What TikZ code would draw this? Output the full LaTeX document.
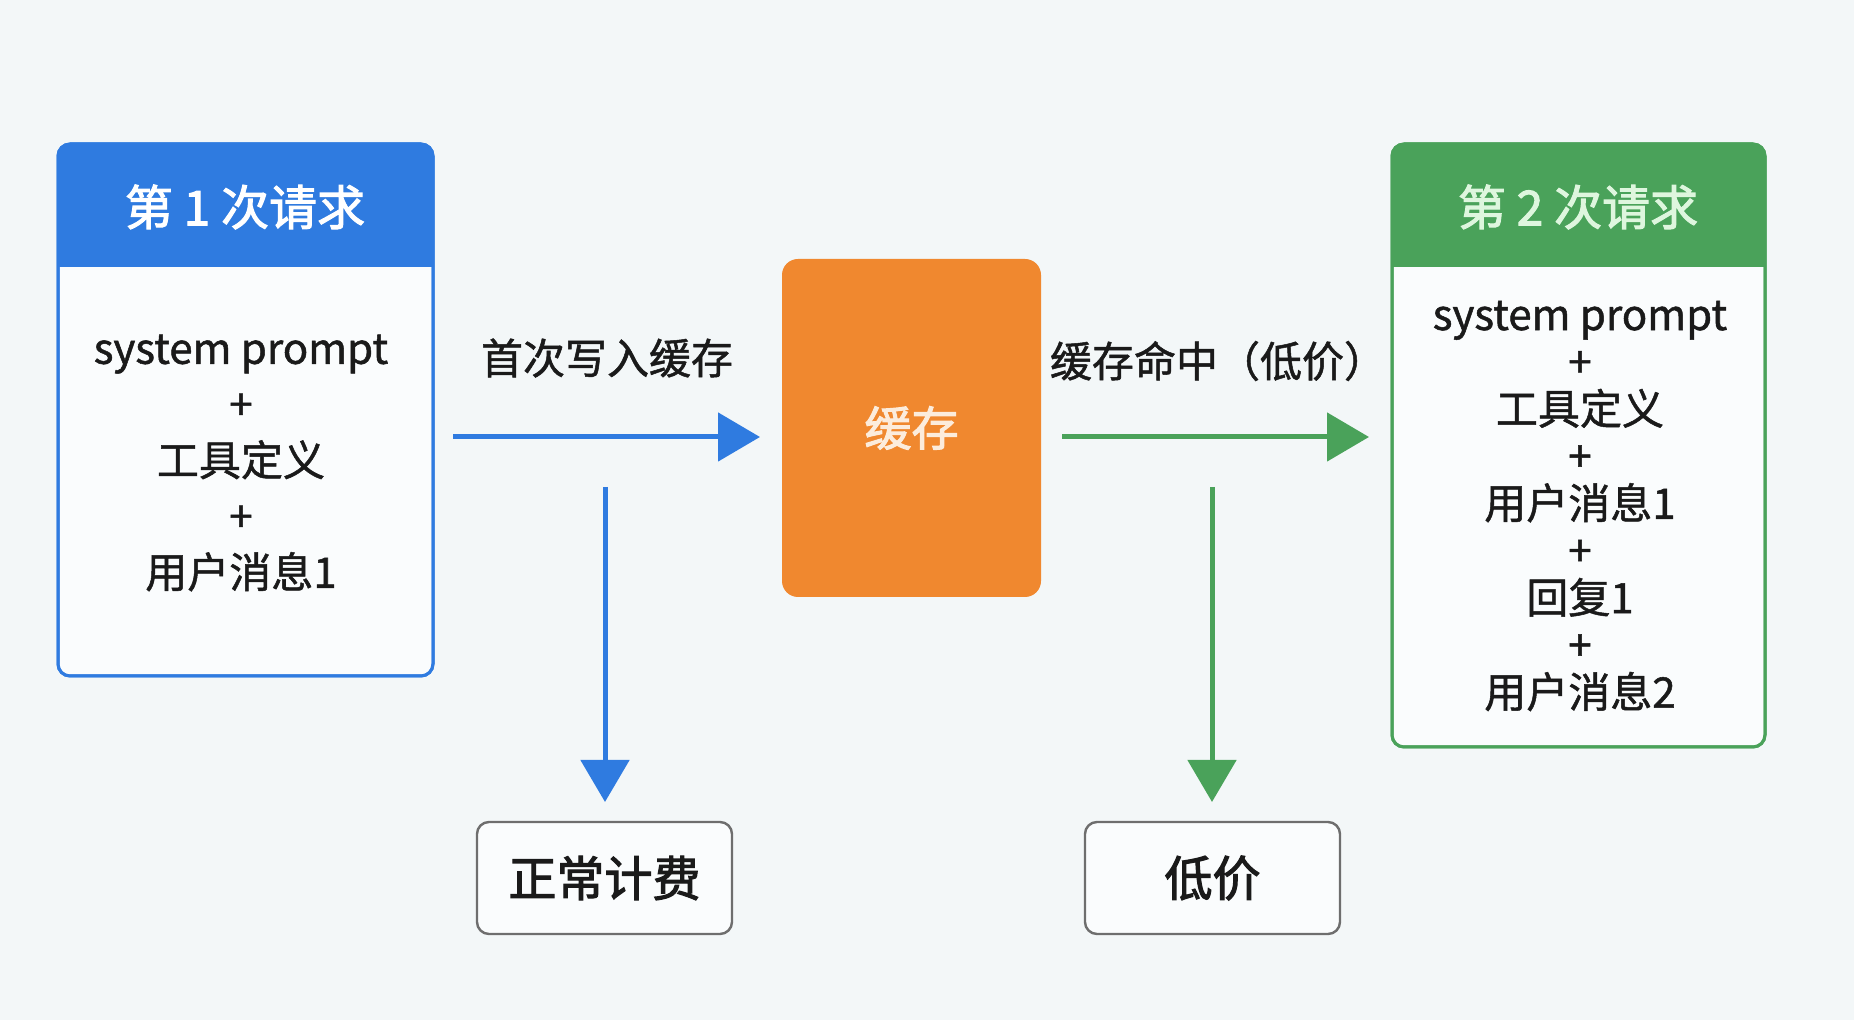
\documentclass[tikz,border=0pt]{standalone}
\usepackage{fontspec}
\setmainfont{Noto Sans CJK SC}
\newfontfamily\medf[FakeBold=1.2]{Noto Sans CJK SC}
\newfontfamily\boldf[FakeBold=2.2]{Noto Sans CJK SC}
\usetikzlibrary{arrows.meta}
\definecolor{bg}{HTML}{F3F7F8}
\definecolor{bblue}{HTML}{2F7BE0}
\definecolor{ggreen}{HTML}{4AA25A}
\definecolor{oorange}{HTML}{F0882F}
\definecolor{boxfill}{HTML}{FAFCFD}
\definecolor{graybd}{HTML}{6E6E6E}
\definecolor{txt}{HTML}{1A1A1A}
\tikzset{
  reqbox/.style={fill=boxfill, line width=1.5pt, rounded corners=6pt, outer sep=0pt, inner sep=0pt},
  headtxt/.style={font=\boldf\fontsize{24}{28}\selectfont, inner sep=0pt},
  bodytxt/.style={align=center, text=txt, inner sep=0pt},
  lbl/.style={font=\medf\fontsize{21}{25}\selectfont, text=txt, inner sep=0pt},
  resbox/.style={draw=graybd, fill=boxfill, line width=1.2pt, rounded corners=6pt,
     minimum width=127.5pt, minimum height=56pt, font=\boldf\fontsize{24}{28}\selectfont, text=txt, outer sep=0pt},
  barrow/.style={draw=bblue, line width=2.5pt, -{Triangle[length=21pt,width=24pt]}},
  garrow/.style={draw=ggreen, line width=2.5pt, -{Triangle[length=21pt,width=24pt]}}
}
\begin{document}
\begin{tikzpicture}[x=0.5pt,y=-0.5pt]
\fill[bg] (0,0) rectangle (1854,1020);
\useasboundingbox (0,0) rectangle (1854,1020);

% first request box
\node[reqbox, draw=bblue, minimum width=187.5pt, minimum height=266pt] (req1) at (245.5,410) {};
\begin{scope}
  \clip[rounded corners=6pt] (req1.north west) rectangle (req1.south east);
  \fill[bblue] (req1.north west) rectangle (req1.east |- 0,267);
\end{scope}
\draw[bblue, line width=1.5pt, rounded corners=6pt] (req1.north west) rectangle (req1.south east);
\node[headtxt, text=white] (h1) at (245,207) {第 1 次请求};
\node[bodytxt, font=\medf\fontsize{21}{28}\selectfont] (b1) at (241,463)
  {system prompt\\+\\工具定义\\+\\用户消息1};

% second request box
\node[reqbox, draw=ggreen, minimum width=186.5pt, minimum height=301.5pt] (req2) at (1578.5,445.5) {};
\begin{scope}
  \clip[rounded corners=6pt] (req2.north west) rectangle (req2.south east);
  \fill[ggreen] (req2.north west) rectangle (req2.east |- 0,267);
\end{scope}
\draw[ggreen, line width=1.5pt, rounded corners=6pt] (req2.north west) rectangle (req2.south east);
\node[headtxt, text={rgb,255:red,222;green,246;blue,222}] (h2) at (1578,207) {第 2 次请求};
\node[bodytxt, font=\medf\fontsize{21}{23.6}\selectfont] (b2) at (1580,506)
  {system prompt\\+\\工具定义\\+\\用户消息1\\+\\回复1\\+\\用户消息2};

% cache
\node[fill=oorange, rounded corners=8pt, minimum width=129.5pt, minimum height=169pt,
      outer sep=0pt, text={rgb,255:red,252;green,236;blue,220}, font=\boldf\fontsize{23.5}{28}\selectfont]
      (cache) at (911.5,428) {缓存};

% result boxes
\node[resbox] (bill) at (604.5,878) {正常计费};
\node[resbox] (cheap) at (1212.5,878) {低价};

% arrows
\coordinate (a1s) at (453,437);
\coordinate (d1s) at (605,487);
\coordinate (a2s) at (1062,437);
\coordinate (d2s) at (1212,487);
\draw[barrow, shorten >=11pt] (a1s) -- (a1s -| cache.west);
\draw[barrow, shorten >=10pt] (d1s) -- (d1s |- bill.north);
\draw[garrow, shorten >=11.5pt] (a2s) -- (a2s -| req2.west);
\draw[garrow, shorten >=10pt] (d2s) -- (d2s |- cheap.north);

% labels
\node[lbl] (l1) at (607,358) {首次写入缓存};
\node[lbl] (l2) at (1218,361) {缓存命中（低价）};
\end{tikzpicture}
\end{document}
